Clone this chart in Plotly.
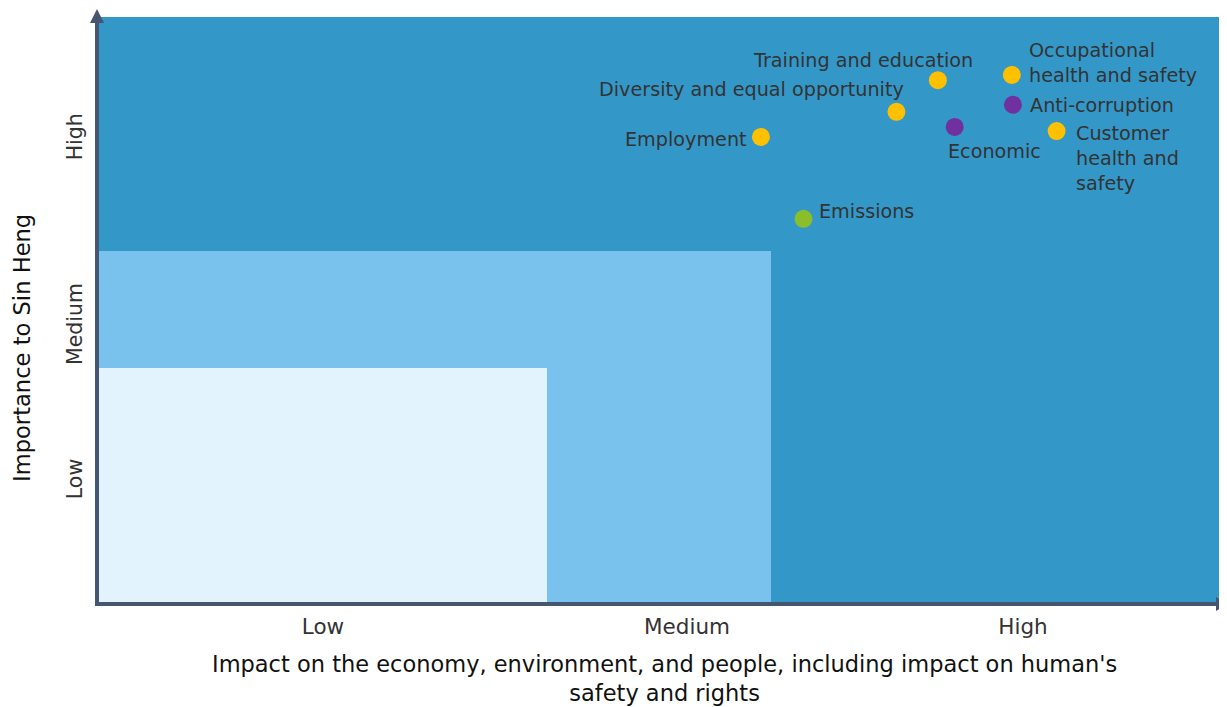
import plotly.graph_objects as go

# ---- data ----
topics = ["Training and education", "Occupational<br>health and safety",
          "Diversity and equal opportunity", "Anti-corruption", "Economic",
          "Employment", "Customer<br>health and<br>safety", "Emissions"]
impact = [74.9, 81.5, 71.2, 81.6, 76.4, 59.1, 85.5, 62.9]
importance = [89.2, 90.1, 83.8, 85.0, 81.2, 79.5, 80.5, 65.5]
categories = ["social", "social", "social", "governance", "governance",
              "social", "social", "environmental"]
x_tick_labels = ["Low", "Medium", "High"]
x_tick_vals = [20, 52.5, 82.5]
y_tick_labels = ["Low", "Medium", "High"]
y_tick_vals = [20.5, 47, 79]
zone_medium = 60
zone_low = 40

cat_colors = {"social": "#FFC000", "governance": "#7030A0", "environmental": "#8BBE2B"}
# label placement (anchor, xshift, yshift)
label_pos = [("center", "middle", -75, 20), ("left", "middle", 15, 12),
             ("right", "middle", 10, 22), ("left", "middle", 15, -1),
             ("left", "middle", -9, -25), ("right", "middle", -12, -3),
             ("left", "middle", 17, -27), ("left", "middle", 14, 7)]

FONT = "DejaVu Sans"
AXIS = "#465670"

fig = go.Figure()
fig.add_trace(go.Scatter(
    x=impact, y=importance, mode="markers",
    marker=dict(size=18, color=[cat_colors[c] for c in categories], line=dict(width=0)),
    hovertext=[t.replace("<br>", " ") for t in topics], hoverinfo="text",
    showlegend=False))

shapes = [
    dict(type="rect", xref="x", yref="y", x0=0, x1=100, y0=0, y1=100,
         fillcolor="#3397C8", line=dict(width=0), layer="below"),
    dict(type="rect", xref="x", yref="y", x0=0, x1=zone_medium, y0=0, y1=zone_medium,
         fillcolor="#7AC2EE", line=dict(width=0), layer="below"),
    dict(type="rect", xref="x", yref="y", x0=0, x1=zone_low, y0=0, y1=zone_low,
         fillcolor="#E3F3FD", line=dict(width=0), layer="below"),
]
# axis lines with arrows (paper coords; screen pixels relative to plot area)
px0, pw = 99, 1120
py0, ph = 602, 585
def PX(p): return (p - px0) / pw
def PY(p): return (py0 - p) / ph
shapes += [
    dict(type="line", xref="paper", yref="paper", x0=PX(97), x1=PX(97), y0=PY(606), y1=PY(22),
         line=dict(color=AXIS, width=4), layer="above"),
    dict(type="line", xref="paper", yref="paper", x0=PX(95), x1=PX(1218), y0=PY(604), y1=PY(604),
         line=dict(color=AXIS, width=4), layer="above"),
    dict(type="path", xref="paper", yref="paper",
         path=f"M {PX(90)},{PY(23)} L {PX(97)},{PY(9)} L {PX(104)},{PY(23)} Z",
         fillcolor=AXIS, line=dict(width=0), layer="above"),
    dict(type="path", xref="paper", yref="paper",
         path=f"M {PX(1216)},{PY(597)} L {PX(1228)},{PY(604)} L {PX(1216)},{PY(611)} Z",
         fillcolor=AXIS, line=dict(width=0), layer="above"),
]

annotations = []
for t, x, y, (xa, ya, xs, ys) in zip(topics, impact, importance, label_pos):
    annotations.append(dict(x=x, y=y, xref="x", yref="y", text=t, showarrow=False,
                            xanchor=xa, yanchor=ya, xshift=xs, yshift=ys, align="left",
                            font=dict(family=FONT, size=19.2, color="#333333")))
annotations.append(dict(x=PX(664.5), y=PY(678), xref="paper", yref="paper",
                        text="Impact on the economy, environment, and people, including impact on human's<br>safety and rights",
                        showarrow=False, xanchor="center", yanchor="middle",
                        font=dict(family=FONT, size=22.5, color="#111111")))
annotations.append(dict(x=PX(22), y=PY(348), xref="paper", yref="paper",
                        text="Importance to Sin Heng", textangle=-90,
                        showarrow=False, xanchor="center", yanchor="middle",
                        font=dict(family=FONT, size=22.6, color="#111111")))

fig.update_layout(
    width=1227, height=707,
    margin=dict(l=91, r=16, t=9, b=113),
    paper_bgcolor="white", plot_bgcolor="white",
    shapes=shapes, annotations=annotations,
    xaxis=dict(range=[0, 100], tickvals=x_tick_vals, ticktext=x_tick_labels,
               showgrid=False, zeroline=False, showline=False, ticks="",
               ticklabelstandoff=9,
               tickfont=dict(family=FONT, size=21.5, color="#333333"), fixedrange=True),
    yaxis=dict(range=[0, 100], tickvals=y_tick_vals, ticktext=y_tick_labels,
               tickangle=-90, showgrid=False, zeroline=False, showline=False, ticks="",
               ticklabelstandoff=12,
               tickfont=dict(family=FONT, size=20.5, color="#333333"), fixedrange=True),
)

fig.write_html("out.html")
